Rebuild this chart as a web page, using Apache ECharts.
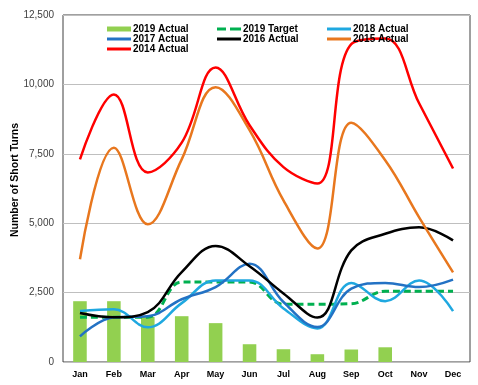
<!DOCTYPE html>
<html><head><meta charset="utf-8">
<script src="https://cdn.jsdelivr.net/npm/echarts@6/dist/echarts.min.js"></script>
<style>html,body{margin:0;padding:0;background:#fff}#c{width:478px;height:385px}</style>
</head><body><div id="c"></div>
<script>
const months = ['Jan','Feb','Mar','Apr','May','Jun','Jul','Aug','Sep','Oct','Nov','Dec'];
const yTicks = [0, 2500, 5000, 7500, 10000, 12500];
const actual2019 = [2190, 2190, 1620, 1650, 1400, 640, 460, 280, 450, 530, null, null];
const target2019 = [1610, 1610, 1610, 2880, 2880, 2880, 2080, 2080, 2100, 2550, 2550, 2550];
const actual2018 = [1840, 1900, 1250, 2120, 2940, 2940, 1930, 1210, 2850, 2190, 2940, 1830];
const actual2017 = [925, 1610, 1650, 2260, 2700, 3540, 2160, 1260, 2640, 2850, 2700, 2970];
const actual2016 = [1765, 1610, 1800, 3240, 4180, 3450, 2470, 1600, 4020, 4620, 4850, 4380];
const actual2015 = [3700, 7720, 4960, 7300, 9900, 8350, 5820, 4090, 8620, 7270, 5210, 3230];
const actual2014 = [7300, 9640, 6830, 7900, 10610, 8530, 7020, 6430, 11450, 11650, 9320, 6970];

const chart = echarts.init(document.getElementById('c'), null, {renderer: 'canvas'});
const font = 'Liberation Sans, Arial, sans-serif';
function line(name, data, color, dashed) {
  return {
    name, type: 'line', data, smooth: 0.4, symbol: 'none', showSymbol: false,
    lineStyle: {color, width: dashed ? 3 : 2.5, type: dashed ? [7, 4] : 'solid'},
    itemStyle: {color}, z: 3
  };
}
const ICON_LINE = 'path://M0,0h24v3h-24z';
const ICON_DASH = 'path://M0,0h9v3h-9z M13,0h11v3h-11z';
const ICON_BAR = 'path://M0,0h24v5h-24z';
function legend(name, left, top, icon, h) {
  return {
    data: [name], left, top, itemWidth: 24, itemHeight: h, itemGap: 2, icon,
    textStyle: {fontFamily: font, fontWeight: 'bold', fontSize: 10, color: '#000', padding: [0, 0, 0, -3]},
    padding: 0, selectedMode: false
  };
}
chart.setOption({
  animation: false,
  backgroundColor: '#fff',
  grid: {left: 63, right: 8, top: 15, bottom: 23, show: true, borderColor: '#404040', borderWidth: 1},
  legend: [
    legend('2019 Actual', 107, 24, ICON_BAR, 5),
    legend('2017 Actual', 107, 34, ICON_LINE, 3),
    legend('2014 Actual', 107, 44, ICON_LINE, 3),
    legend('2019 Target', 217, 24, ICON_DASH, 3),
    legend('2016 Actual', 217, 34, ICON_LINE, 3),
    legend('2018 Actual', 327, 24, ICON_LINE, 3),
    legend('2015 Actual', 327, 34, ICON_LINE, 3)
  ],
  graphic: [{
    type: 'text', x: 15, y: 180, rotation: Math.PI / 2,
    style: {text: 'Number of Short Turns', fontFamily: font, fontWeight: 'bold', fontSize: 10.5,
      fill: '#000', align: 'center', verticalAlign: 'middle'}
  }],
  xAxis: {
    type: 'category', data: months, boundaryGap: true,
    axisLine: {show: false}, axisTick: {show: false},
    axisLabel: {fontFamily: font, fontWeight: 'bold', fontSize: 9, color: '#000', margin: 8}
  },
  yAxis: {
    type: 'value', min: yTicks[0], max: yTicks[yTicks.length - 1], interval: 2500,
    axisLine: {show: false}, axisTick: {show: false},
    splitLine: {lineStyle: {color: '#bfbfbf', width: 1}},
    axisLabel: {fontFamily: font, fontSize: 10, color: '#404040', margin: 9,
      formatter: v => v.toLocaleString('en-US')}
  },
  series: [
    {name: '2019 Actual', type: 'bar', data: actual2019, barWidth: '40%',
      itemStyle: {color: '#92D050'}, z: 1},
    line('2019 Target', target2019, '#00B050', true),
    line('2018 Actual', actual2018, '#1FA8E0'),
    line('2017 Actual', actual2017, '#2372C4'),
    line('2016 Actual', actual2016, '#000000'),
    line('2015 Actual', actual2015, '#E8771E'),
    line('2014 Actual', actual2014, '#FF0000')
  ]
});
</script></body></html>
